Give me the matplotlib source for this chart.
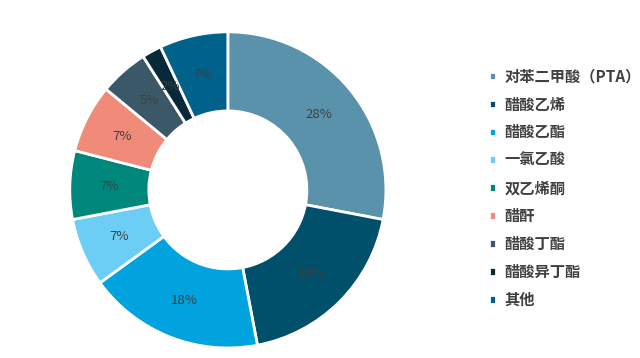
import matplotlib
matplotlib.use('Agg')
import matplotlib.pyplot as plt

plt.rcParams['font.family'] = ['Noto Sans CJK SC', 'DejaVu Sans']

# 数据
labels = ['对苯二甲酸（PTA）', '醋酸乙烯', '醋酸乙酯', '一氯乙酸', '双乙烯酮',
          '醋酐', '醋酸丁酯', '醋酸异丁酯', '其他']
values = [28, 19, 18, 7, 7, 7, 5, 2, 7]
colors = ['#5B92AB', '#004F6B', '#00A3DD', '#6CCEF5', '#00877B',
          '#EF8B78', '#3A5868', '#08293A', '#00618A']

fig = plt.figure(figsize=(6.4, 3.58), dpi=100)
ax = fig.add_axes([0.109, 0.028, 0.494, 0.883])

wedges, texts, autotexts = ax.pie(
    values, colors=colors, startangle=90, counterclock=False,
    autopct='%d%%', pctdistance=0.75,
    wedgeprops=dict(width=0.5, edgecolor='white', linewidth=2),
    textprops=dict(color='#404040', fontsize=9.5))
ax.set_xlim(-1, 1)
ax.set_ylim(-1, 1)
ax.set_aspect('equal')

leg = fig.legend(wedges, labels, loc='upper left', bbox_to_anchor=(0.742, 0.847),
                 frameon=False, handlelength=0.5, handleheight=0.5,
                 handletextpad=0.55, labelspacing=0.78, fontsize=11)
for t in leg.get_texts():
    t.set_color('#404040')
    t.set_fontweight('bold')

fig.savefig('out.png', dpi=100)
